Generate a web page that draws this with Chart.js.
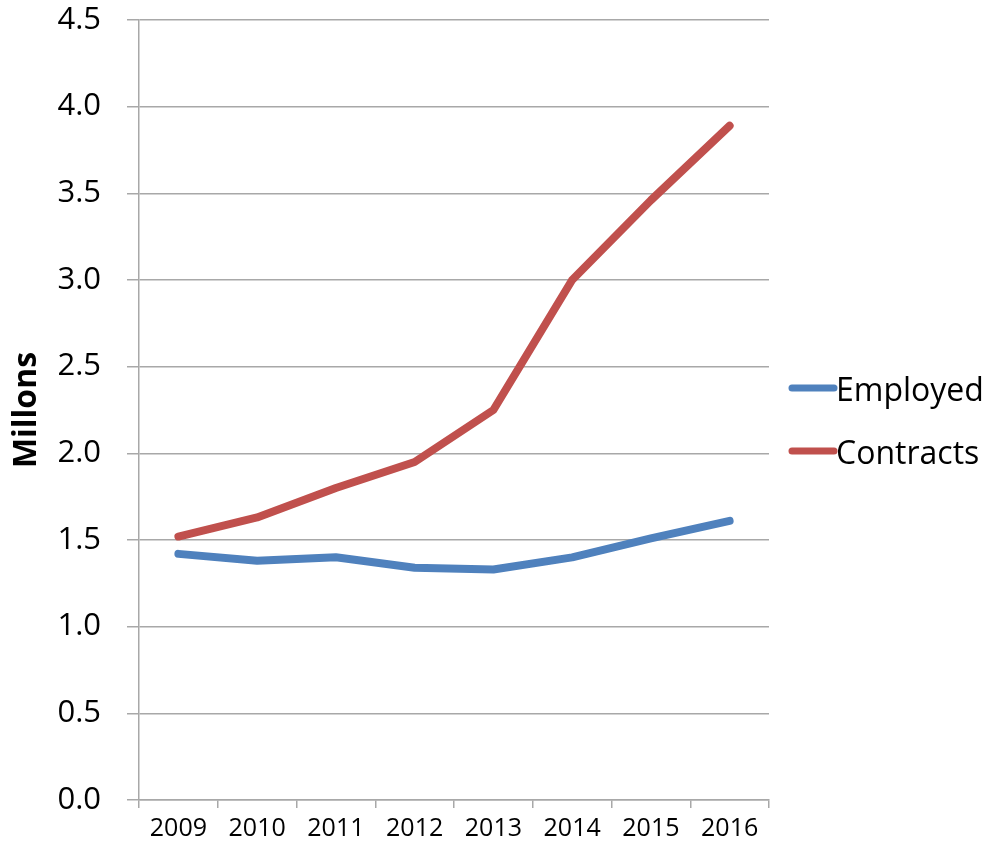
<!DOCTYPE html>
<html>
<head>
<meta charset="utf-8">
<script src="https://cdn.jsdelivr.net/npm/chart.js@4/dist/chart.umd.min.js"></script>
<style>
  html, body { margin:0; padding:0; background:#fff; }
  #wrap { width:994px; height:854px; position:relative; }
</style>
</head>
<body>
<div id="wrap"><canvas id="chart1"></canvas></div>
<script>
// ── DATA ──────────────────────────────────────────────────
const YEARS     = ['2009','2010','2011','2012','2013','2014','2015','2016'];
const EMPLOYED  = [1.42, 1.38, 1.40, 1.34, 1.33, 1.40, 1.51, 1.61];
const CONTRACTS = [1.52, 1.63, 1.80, 1.95, 2.25, 3.00, 3.46, 3.89];

const BLUE  = '#4f81bd';
const RED   = '#c0504d';
const GRID  = '#a8a8a8';
const FONT  = "'Open Sans', sans-serif";

// legend on the right, line swatch + label
const sideLegend = {
  id: 'sideLegend',
  afterDraw(chart) {
    const { ctx, chartArea } = chart;
    const x0 = chartArea.right + 20;
    const rows = [388, 451];
    ctx.save();
    chart.data.datasets.forEach((ds, i) => {
      const y = rows[i];
      ctx.strokeStyle = ds.borderColor;
      ctx.lineWidth = 7;
      ctx.lineCap = 'round';
      ctx.beginPath();
      ctx.moveTo(x0 + 3, y);
      ctx.lineTo(x0 + 45, y);
      ctx.stroke();
      ctx.fillStyle = '#000';
      ctx.font = `32px ${FONT}`;
      ctx.textBaseline = 'middle';
      ctx.fillText(ds.label, x0 + 47, y + 4);
    });
    ctx.restore();
  }
};

const ctx = document.getElementById('chart1').getContext('2d');
new Chart(ctx, {
  type: 'line',
  data: {
    labels: YEARS,
    datasets: [
      { label:'Employed',  data:EMPLOYED,  borderColor:BLUE, backgroundColor:BLUE },
      { label:'Contracts', data:CONTRACTS, borderColor:RED,  backgroundColor:RED },
    ]
  },
  options: {
    responsive: true,
    maintainAspectRatio: false,
    animation: false,
    layout: { padding: { left:0, right:225, top:20, bottom:0 } },
    elements: {
      line:  { borderWidth:8, tension:0, borderCapStyle:'round', borderJoinStyle:'round' },
      point: { radius:0, hoverRadius:0 }
    },
    plugins: { legend:{ display:false }, tooltip:{ enabled:false } },
    scales: {
      x: {
        offset: true,
        grid: { offset:true, drawOnChartArea:false, color:GRID, lineWidth:1.5, tickLength:8 },
        border: { color:GRID, width:1.5 },
        ticks: { color:'#000', font:{ family:FONT, size:25 }, padding:6, maxRotation:0 },
        afterFit: s => { s.height = 54; }
      },
      y: {
        min: 0, max: 4.5,
        grid: { color:GRID, lineWidth:1.5, tickLength:12 },
        border: { color:GRID, width:1.5 },
        ticks: {
          stepSize: 0.5,
          color: '#000',
          font: { family:FONT, size:31 },
          padding: 26,
          callback: v => v.toFixed(1)
        },
        title: {
          display: true, text: 'Millons', color: '#000',
          font: { family:FONT, size:32, weight:'bold' },
          padding: { top:8, bottom:0 }
        },
        // fixed axis width; tick padding should not push the plot top down
        afterFit: s => { s.width = 139; s.paddingTop = 0; s.paddingBottom = 0; }
      }
    }
  },
  plugins: [sideLegend]
});
</script>
</body>
</html>
